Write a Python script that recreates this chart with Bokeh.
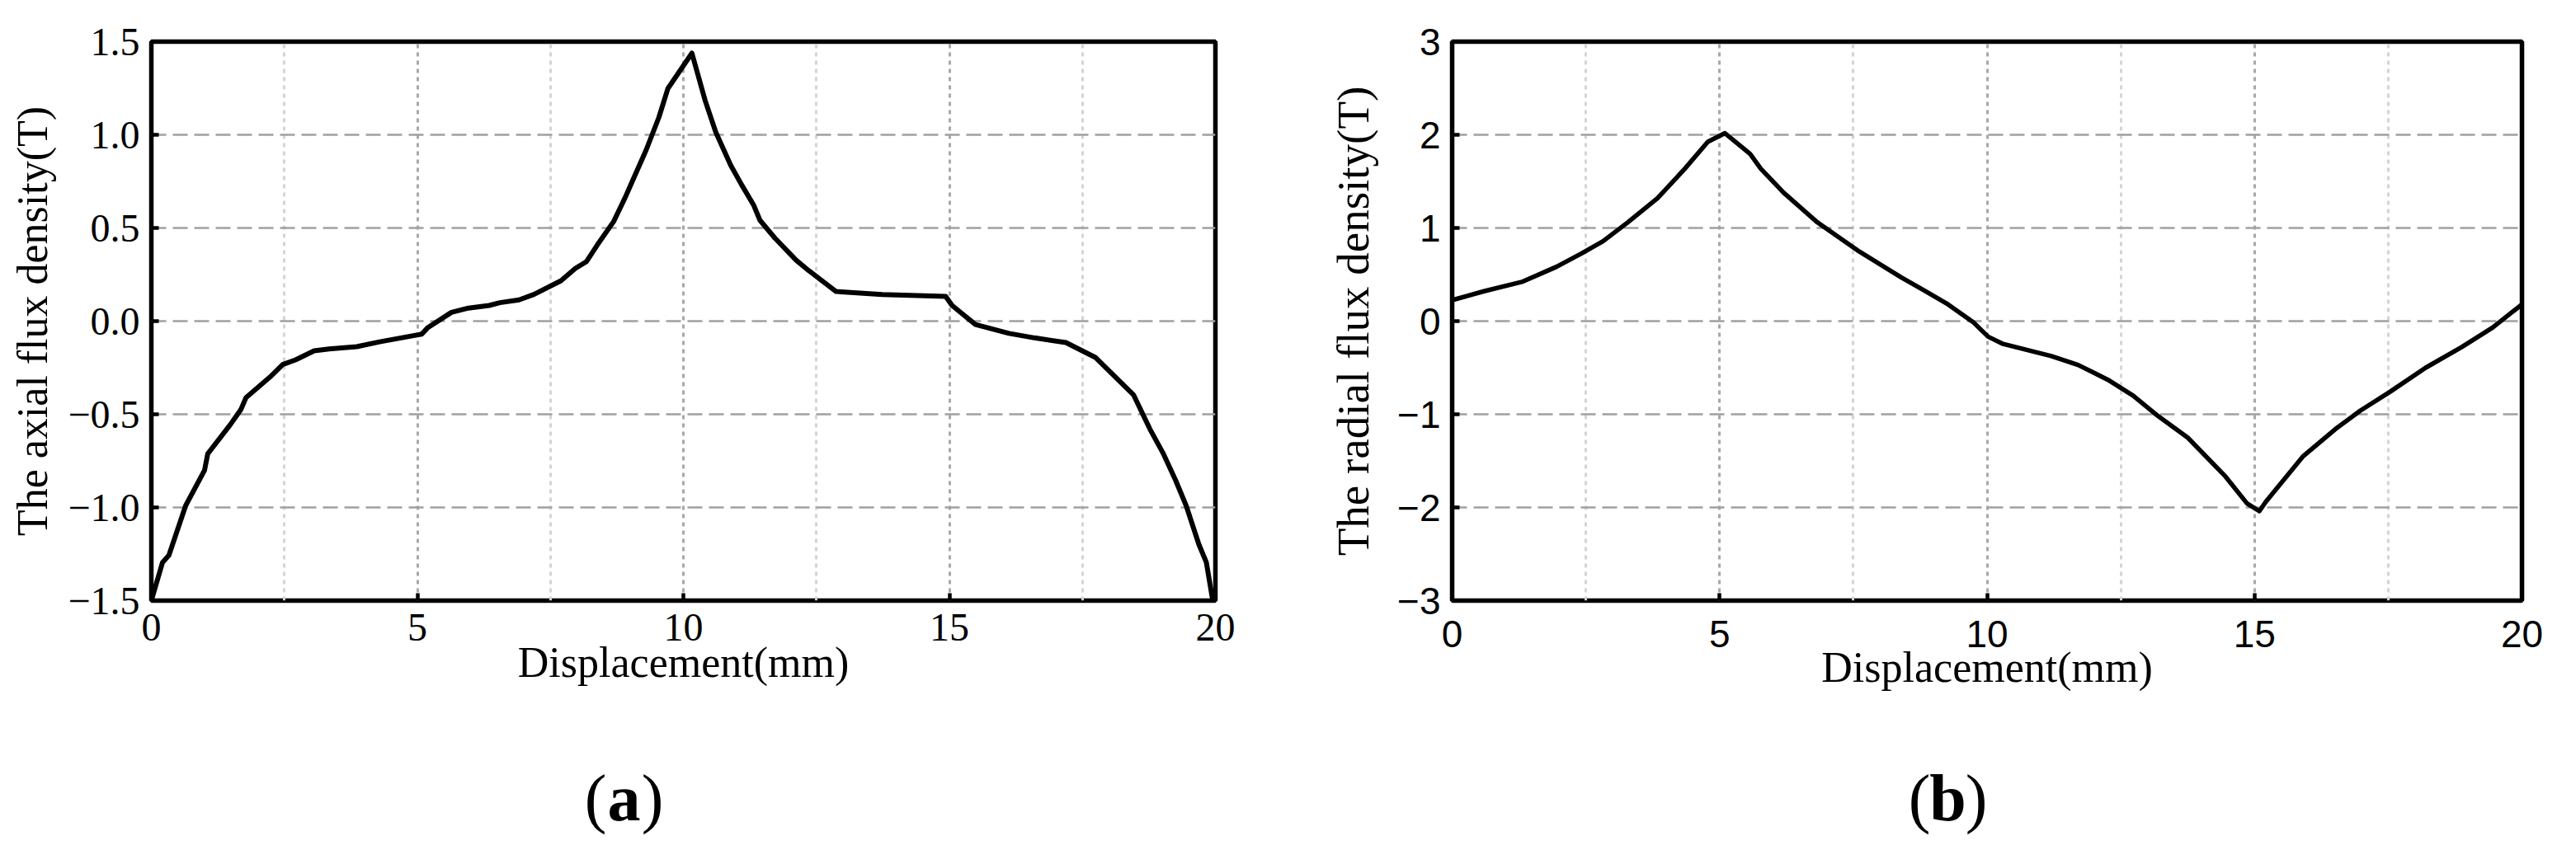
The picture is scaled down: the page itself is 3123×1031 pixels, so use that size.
from bokeh.plotting import figure
from bokeh.models import FixedTicker, Range1d
from bokeh.layouts import row, column
from bokeh.embed import file_html
from bokeh.resources import INLINE
from bokeh.core.properties import value

# ---------------- data ----------------
axial_x = [0, 0.21, 0.33, 0.645, 1.0, 1.06, 1.48, 1.68, 1.78, 2.23, 2.47, 2.71, 3.06, 3.34,
           3.86, 4.29, 5.08, 5.2, 5.64, 5.96, 6.35, 6.55, 6.91, 7.19, 7.70, 7.97, 8.18, 8.38,
           8.69, 8.90, 9.30, 9.54, 9.71, 10.16, 10.41, 10.61, 10.89, 11.09, 11.32, 11.44,
           11.72, 12.12, 12.36, 12.87, 13.74, 14.93, 15.05, 15.49, 16.12, 16.60, 17.19,
           17.75, 18.46, 18.77, 19.01, 19.25, 19.45, 19.69, 19.83, 19.95]
axial_y = [-1.5, -1.295, -1.257, -0.99, -0.80, -0.712, -0.557, -0.476, -0.41, -0.30, -0.233,
           -0.208, -0.159, -0.149, -0.137, -0.111, -0.07, -0.034, 0.047, 0.070, 0.084, 0.099,
           0.114, 0.143, 0.217, 0.283, 0.32, 0.408, 0.535, 0.66, 0.918, 1.094, 1.249, 1.438,
           1.183, 1.013, 0.836, 0.734, 0.623, 0.541, 0.446, 0.327, 0.27, 0.159, 0.143, 0.133,
           0.084, -0.018, -0.066, -0.09, -0.115, -0.196, -0.395, -0.58, -0.705, -0.853, -0.99,
           -1.199, -1.295, -1.5]

radial_x = [0, 0.61, 1.32, 1.95, 2.42, 2.82, 3.28, 3.84, 4.35, 4.78, 5.10, 5.57, 5.77, 6.20,
            6.83, 7.62, 8.40, 8.80, 9.27, 9.74, 10.02, 10.30, 11.20, 11.70, 12.26, 12.73,
            13.20, 13.75, 14.46, 14.86, 15.09, 15.21, 15.91, 16.51, 16.98, 17.53, 18.20,
            18.87, 19.45, 20.0]
radial_y = [0.225, 0.323, 0.424, 0.583, 0.727, 0.857, 1.059, 1.319, 1.636, 1.925, 2.017, 1.795,
            1.636, 1.377, 1.059, 0.744, 0.468, 0.338, 0.18, -0.01, -0.167, -0.245, -0.375,
            -0.47, -0.63, -0.80, -1.02, -1.25, -1.67, -1.957, -2.04, -1.94, -1.45, -1.16,
            -0.96, -0.76, -0.50, -0.28, -0.07, 0.18]

x_ticks = [0, 5, 10, 15, 20]
x_minor = [2.5, 7.5, 12.5, 17.5]
a_y_ticks = [-1.5, -1.0, -0.5, 0.0, 0.5, 1.0, 1.5]
a_y_labels = ["\u22121.5", "\u22121.0", "\u22120.5", "0.0", "0.5", "1.0", "1.5"]
b_y_ticks = [-3, -2, -1, 0, 1, 2, 3]
b_y_labels = ["\u22123", "\u22122", "\u22121", "0", "1", "2", "3"]

a_xlabel = "Displacement(mm)"
a_ylabel = "The axial flux density(T)"
b_xlabel = "Displacement(mm)"
b_ylabel = "The radial flux density(T)"
captions = ["a", "b"]

SERIF = "Liberation Serif"
SANS = "Liberation Sans"

PAGE_W = 3123
TOP_H = 880
CAP_H = 151


def make_panel(xs, ys, yticks, ylabels, yr, xlabel, ylabel, tick_font, tick_size,
               w, h, bl, br, bt, bb, lw, ylab_size, xlab_size, y_lab_stand, x_lab_stand,
               y_tick_stand, x_tick_stand):
    p = figure(width=w, height=h, min_border_left=bl, min_border_right=br,
               min_border_top=bt, min_border_bottom=bb, output_backend="svg",
               toolbar_location=None, x_range=Range1d(0, 20), y_range=Range1d(*yr))
    p.title.visible = False
    p.background_fill_color = "white"
    p.border_fill_color = "white"
    p.outline_line_color = "black"
    p.outline_line_width = 5.5

    p.xaxis.ticker = FixedTicker(ticks=x_ticks, minor_ticks=x_minor)
    p.yaxis.ticker = FixedTicker(ticks=yticks)
    p.yaxis.major_label_overrides = {t: l for t, l in zip(yticks, ylabels)}
    p.xaxis.major_label_overrides = {t: str(t) for t in x_ticks}

    for ax in (p.xaxis[0], p.yaxis[0]):
        ax.axis_line_color = None
        ax.major_tick_in = 9
        ax.major_tick_out = 0
        ax.major_tick_line_width = 4.5
        ax.major_tick_line_color = "black"
        ax.minor_tick_line_color = None
        ax.major_label_text_font = tick_font
        ax.major_label_text_font_size = f"{tick_size}px"
        ax.major_label_text_color = "black"
        ax.axis_label_text_font = SERIF
        ax.axis_label_text_font_style = "normal"
        ax.axis_label_text_color = "black"
    p.xaxis.axis_label = xlabel
    p.yaxis.axis_label = ylabel
    p.xaxis.axis_label_text_font_size = f"{xlab_size}px"
    p.yaxis.axis_label_text_font_size = f"{ylab_size}px"
    p.yaxis.axis_label_standoff = y_lab_stand
    p.xaxis.axis_label_standoff = x_lab_stand
    p.yaxis.major_label_standoff = y_tick_stand
    p.xaxis.major_label_standoff = x_tick_stand

    # grids
    p.ygrid.grid_line_color = "#a0a0a0"
    p.ygrid.grid_line_dash = "18 8"
    p.ygrid.grid_line_width = 2.5
    p.xgrid.grid_line_color = "#a8a8a8"
    p.xgrid.grid_line_dash = "5 5"
    p.xgrid.grid_line_width = 3
    p.xgrid.minor_grid_line_color = "#d4d4d4"
    p.xgrid.minor_grid_line_dash = "5 5"
    p.xgrid.minor_grid_line_width = 3

    p.line(xs, ys, line_color="black", line_width=lw, line_join="round")
    return p


pa = make_panel(axial_x, axial_y, a_y_ticks, a_y_labels, (-1.5, 1.5), a_xlabel, a_ylabel,
                SERIF, 48, 1560, TOP_H, 183, 87, 50, TOP_H - 50 - 678, 6, 52, 52, 11, -5, 14, 12)
pb = make_panel(radial_x, radial_y, b_y_ticks, b_y_labels, (-3, 3), b_xlabel, b_ylabel,
                SANS, 46, PAGE_W - 1560, TOP_H, 200, 66, 43, TOP_H - 43 - 693, 5.5, 55, 52,
                20, -7, 14, 20)

# ---- caption strip: a plain canvas whose data units are page pixels ----
pc = figure(width=PAGE_W, height=CAP_H, output_backend="svg", toolbar_location=None,
            x_axis_type=None, y_axis_type=None, min_border=0,
            x_range=Range1d(0, PAGE_W), y_range=Range1d(TOP_H + CAP_H, TOP_H))
pc.title.visible = False
pc.grid.visible = False
pc.outline_line_color = None

cap_centers = [756, 2361]
cap_baseline = 967
cap_size = 80
paren_w = 0.333 * cap_size
letter_w = 0.53 * cap_size
for c, cx in zip(captions, cap_centers):
    half = (2 * paren_w + letter_w) / 2
    for txt, lx, style in [("(", cx - half + paren_w / 2, "normal"),
                           (c, cx, "bold"),
                           (")", cx + half - paren_w / 2, "normal")]:
        pc.text(x=[lx], y=[cap_baseline], text=[txt], text_font=value(SERIF),
                text_font_style=style, text_font_size=f"{cap_size}px",
                text_align="center", text_baseline="alphabetic", text_color="black")

layout = column(row(pa, pb), pc)
open("out.html", "w").write(file_html(layout, INLINE))
